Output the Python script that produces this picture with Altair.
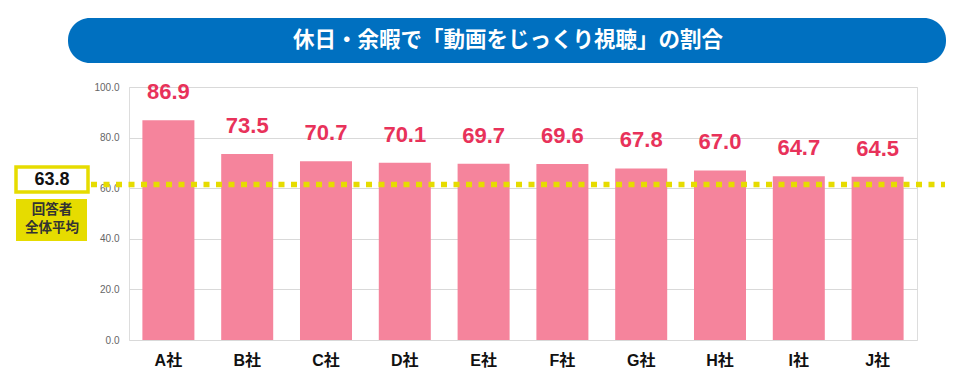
import altair as alt
import pandas as pd

companies = ["A社", "B社", "C社", "D社", "E社", "F社", "G社", "H社", "I社", "J社"]
values = [86.9, 73.5, 70.7, 70.1, 69.7, 69.6, 67.8, 67.0, 64.7, 64.5]
average = 63.8
title_text = "休日・余暇で「動画をじっくり視聴」の割合"
avg_label_line1 = "回答者"
avg_label_line2 = "全体平均"
y_ticks = [0, 20, 40, 60, 80, 100]

df = pd.DataFrame({"company": companies, "value": values})
avg_df = pd.DataFrame({"avg": [average]})

W, H = 788, 253
FONT = "Liberation Sans, Noto Sans CJK JP, sans-serif"
JP = "Noto Sans CJK JP, sans-serif"

x_enc = alt.X(
    "company:N",
    sort=companies,
    scale=alt.Scale(paddingInner=0.34, paddingOuter=0.17),
    axis=alt.Axis(
        title=None, labelAngle=0, ticks=False, domain=False,
        labelFont=FONT, labelFontSize=16, labelFontWeight="bold",
        labelColor="#111111", labelPadding=12,
    ),
)
y_enc = alt.Y(
    "value:Q",
    scale=alt.Scale(domain=[0, 100]),
    axis=alt.Axis(
        title=None, values=y_ticks, format=".1f", ticks=False, domain=False,
        labelFont=FONT, labelFontSize=10, labelColor="#666666", labelPadding=10,
        gridColor="#d9d9d9", gridWidth=1,
    ),
)

base = alt.Chart(df)
bars = base.mark_bar(color="#f5849c").encode(x=x_enc, y=y_enc)
labels = base.mark_text(
    dy=-16, baseline="bottom", font=FONT, fontSize=22, fontWeight="bold", color="#e8325a"
).encode(x=alt.X("company:N", sort=companies), y="value:Q", text=alt.Text("value:Q", format=".1f"))

avg_line = alt.Chart(avg_df).mark_rule(
    color="#e6dc00", strokeWidth=5.5, strokeDash=[6, 6.5], yOffset=6
).encode(y=alt.Y("avg:Q"), x=alt.value(-38), x2=alt.value(816))

# Title banner
banner = alt.Chart(avg_df).mark_rect(color="#0070c0", cornerRadius=22).encode(
    x=alt.value(-61), x2=alt.value(817), y=alt.value(-69), y2=alt.value(-24)
)
banner_text = alt.Chart(avg_df).mark_text(
    text=title_text, font=JP, fontSize=21.5, fontWeight="bold", color="white",
    align="center", baseline="middle",
).encode(x=alt.value(379), y=alt.value(-46))

# Average box
avg_box = alt.Chart(avg_df).mark_rect(
    fill="white", stroke="#e6dc00", strokeWidth=3.5
).encode(x=alt.value(-113), x2=alt.value(-41), y=alt.value(80), y2=alt.value(105))
avg_num = alt.Chart(avg_df).mark_text(
    font=FONT, fontSize=18, fontWeight="bold", color="#111111", align="center", baseline="middle"
).encode(x=alt.value(-77), y=alt.value(93), text=alt.Text("avg:Q", format=".1f"))
avg_lbl_box = alt.Chart(avg_df).mark_rect(fill="#e6dc00").encode(
    x=alt.value(-113), x2=alt.value(-42), y=alt.value(112), y2=alt.value(154)
)
avg_lbl1 = alt.Chart(avg_df).mark_text(
    text=avg_label_line1, font=JP, fontSize=13.5, fontWeight="bold", color="#333333",
    align="center", baseline="middle",
).encode(x=alt.value(-77), y=alt.value(123))
avg_lbl2 = alt.Chart(avg_df).mark_text(
    text=avg_label_line2, font=JP, fontSize=13.5, fontWeight="bold", color="#333333",
    align="center", baseline="middle",
).encode(x=alt.value(-77), y=alt.value(141))

chart = alt.layer(
    bars, labels, avg_line, banner, banner_text, avg_box, avg_num, avg_lbl_box, avg_lbl1, avg_lbl2
).properties(
    width=W, height=H,
    autosize=alt.AutoSizeParams(type="none"),
    padding={"left": 121, "top": 79, "right": 30, "bottom": 30},
).configure_view(stroke=None).configure(background="white")

chart.save("out.html", embed_options={"renderer": "svg", "actions": False})
